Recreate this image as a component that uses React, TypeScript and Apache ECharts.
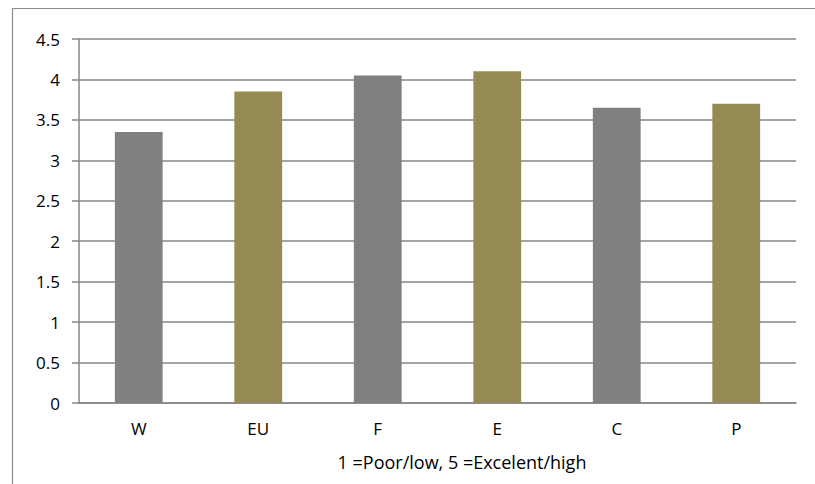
import React, { useEffect, useRef } from "react";
import * as echarts from "echarts";

const categories = ["W", "EU", "F", "E", "C", "P"];
const values = [3.35, 3.85, 4.05, 4.1, 3.65, 3.7];
const barColors = ["#808080", "#948A54", "#808080", "#948A54", "#808080", "#948A54"];
const axisTitle = "1 =Poor/low, 5 =Excelent/high";

export default function App() {
  const ref = useRef<HTMLDivElement>(null);
  useEffect(() => {
    document.body.style.margin = "0";
    const chart = echarts.init(ref.current!, null, { renderer: "svg" });
    const font = "'Open Sans', sans-serif";
    chart.setOption({
      animation: false,
      backgroundColor: "#ffffff",
      grid: { left: 79, top: 39, right: 19, bottom: 81 },
      xAxis: {
        type: "category",
        data: categories,
        axisLine: { lineStyle: { color: "#868686", width: 1.5 } },
        axisTick: { show: false },
        axisLabel: { color: "#000", fontSize: 17, fontFamily: font, margin: 17 },
      },
      yAxis: {
        type: "value",
        min: 0,
        max: 4.5,
        interval: 0.5,
        axisLine: { show: true, lineStyle: { color: "#868686", width: 1.5 } },
        axisTick: { show: true, length: 7, lineStyle: { color: "#868686", width: 1.5 } },
        axisLabel: { color: "#000", fontSize: 17, fontFamily: font, margin: 19 },
        splitLine: { lineStyle: { color: "#868686", width: 1.5 } },
      },
      graphic: [
        {
          type: "rect",
          shape: { x: 12.5, y: 8.5, width: 820, height: 500 },
          style: { fill: "none", stroke: "#8c8c8c", lineWidth: 1.2 },
          silent: true,
          z: -1,
        },
        {
          type: "text",
          x: 462,
          y: 462,
          style: {
            text: axisTitle,
            fill: "#000",
            font: `18px ${font}`,
            textAlign: "center",
            textVerticalAlign: "middle",
          },
        },
      ],
      series: [
        {
          type: "bar",
          data: values.map((v, i) => ({ value: v, itemStyle: { color: barColors[i] } })),
          barWidth: "40%",
        },
      ],
    });
    return () => chart.dispose();
  }, []);
  return <div ref={ref} style={{ width: 815, height: 484 }} />;
}
